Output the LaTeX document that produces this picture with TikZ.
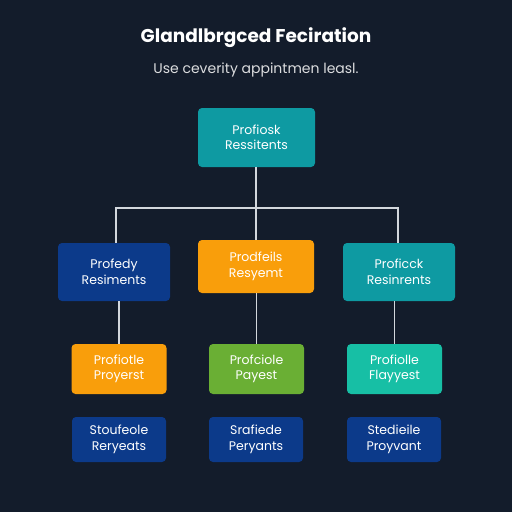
\documentclass[tikz,border=0pt]{standalone}
\usepackage{fontspec}
\setmainfont{Poppins}
\definecolor{bgnavy}{HTML}{131C2B}
\definecolor{boxteal}{HTML}{0E9AA2}
\definecolor{boxblue}{HTML}{0C3A8A}
\definecolor{boxorange}{HTML}{F99E0B}
\definecolor{boxgreen}{HTML}{6AAF34}
\definecolor{boxmint}{HTML}{17BFA5}
\definecolor{linkgray}{HTML}{D3D7DD}
\tikzset{
  card/.style={rounded corners=4pt, minimum width=#1, align=center,
    text=white, font=\fontsize{12.5}{15.5}\selectfont, inner sep=0pt},
  card/.default=112pt,
  link/.style={draw=linkgray, line width=1.8pt}
}
\begin{document}
\begin{tikzpicture}[x=1pt, y=-1pt]
  \fill[bgnavy] (0,0) rectangle (512,512);
  \useasboundingbox (0,0) rectangle (512,512);
  % heading
  \node (title) at (256,38) [text=white, font=\fontsize{18.5}{22}\selectfont\bfseries]
    {Glandlbrgced Feciration};
  \node (subtitle) at (256,70) [text=white!85!bgnavy, font=\fontsize{14}{17}\selectfont]
    {Use ceverity appintmen leasl.};
  % top level
  \node (top) at (256.5,137.5) [card=117pt, minimum height=59pt, fill=boxteal]
    {Profiosk\\Ressitents};
  % middle level
  \node (midl) at (114,272) [card, minimum height=58pt, fill=boxblue]
    {Profedy\\Resiments};
  \node (midc) at (256,266.5) [card=116pt, minimum height=53pt, fill=boxorange]
    {Prodfeils\\Resyemt};
  \node (midr) at (399,272) [card, minimum height=58pt, fill=boxteal]
    {Proficck\\Resinrents};
  % lower level
  \node (lowl) at (119,369) [card=95pt, minimum height=50pt, fill=boxorange]
    {Profiotle\\Proyerst};
  \node (lowc) at (256.5,369) [card=95pt, minimum height=50pt, fill=boxgreen]
    {Profciole\\Payest};
  \node (lowr) at (394.5,369) [card=95pt, minimum height=50pt, fill=boxmint]
    {Profiolle\\Flayyest};
  % base level
  \node (basel) at (119,439.5) [card=94pt, minimum height=45pt, fill=boxblue]
    {Stoufeole\\Reryeats};
  \node (basec) at (256,439.5) [card=94pt, minimum height=45pt, fill=boxblue]
    {Srafiede\\Peryants};
  \node (baser) at (394,439.5) [card=94pt, minimum height=45pt, fill=boxblue]
    {Stedieile\\Proyvant};
  % connectors
  \coordinate (split) at (256,208);
  \draw[link] (top.south -| split) -- (split);
  \draw[link] (midl.north -| 116,0) |- (split) -| (midr.north -| 398,0);
  \draw[link] (split) -- (midc.north -| split);
  \draw[link] (lowl.north) -- (lowl.north |- midl.south);
  \draw[link] (lowc.north) -- (lowc.north |- midc.south);
  \draw[link] (lowr.north) -- (lowr.north |- midr.south);
\end{tikzpicture}
\end{document}
